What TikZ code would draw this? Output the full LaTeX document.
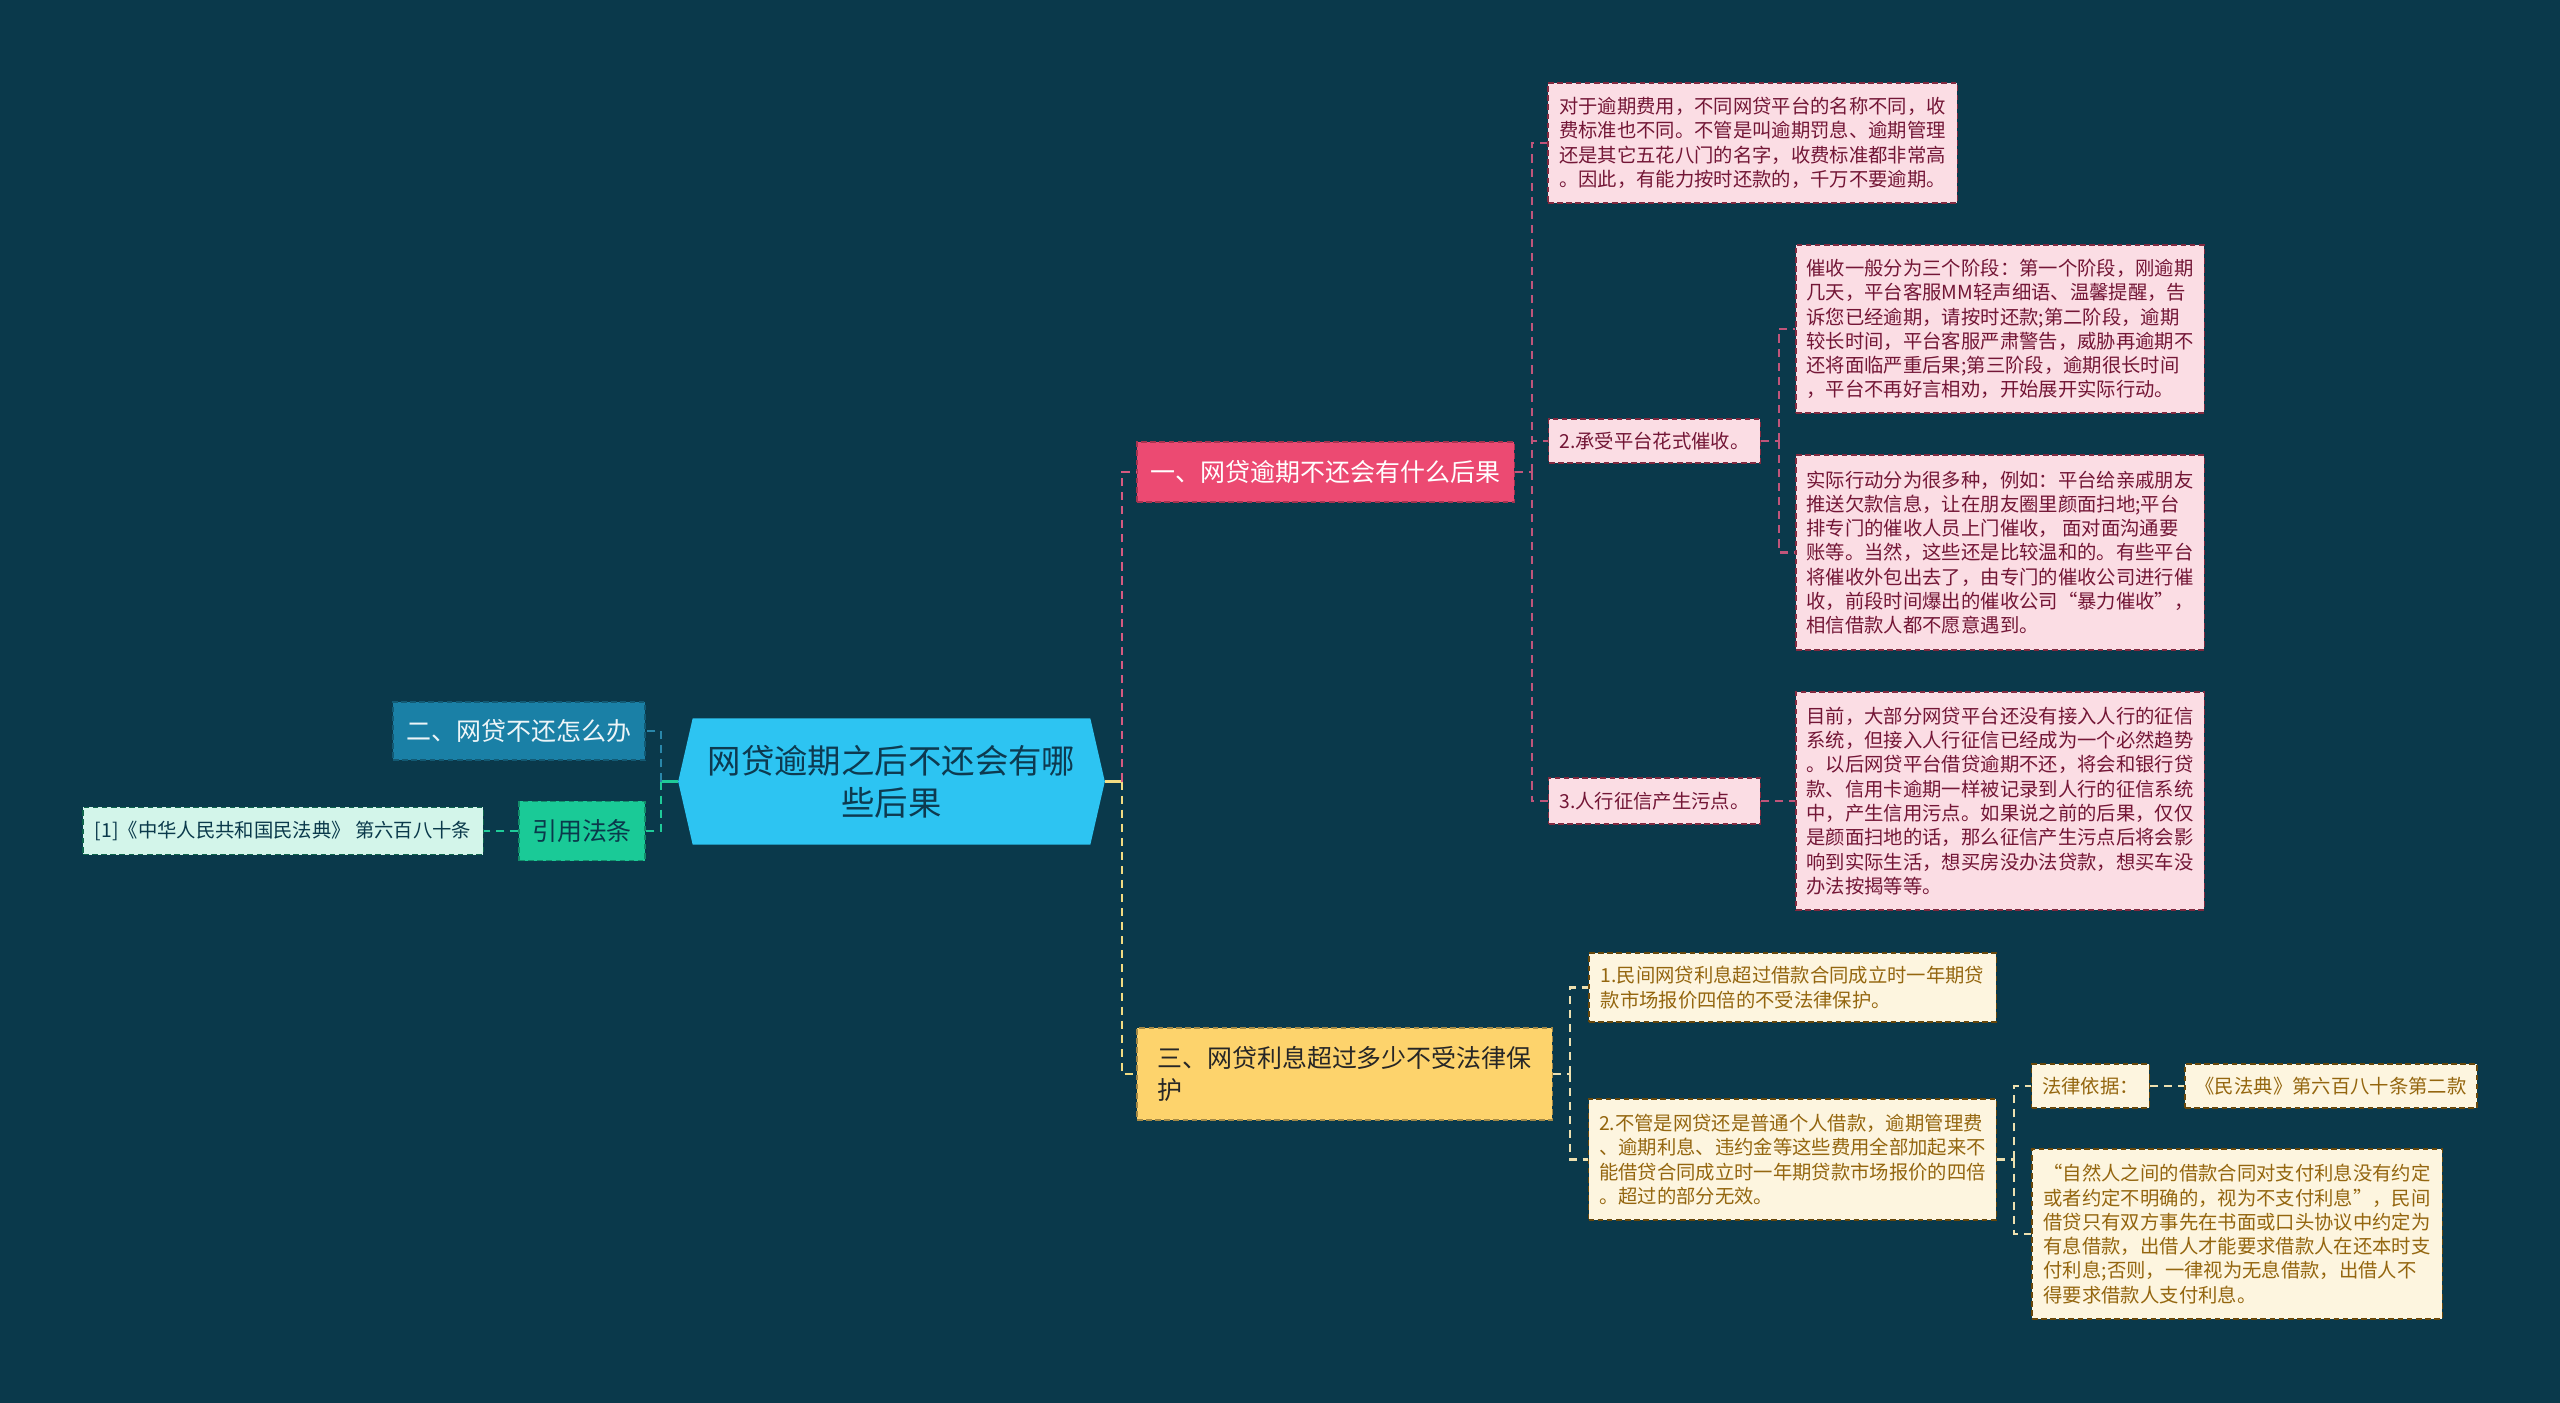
\documentclass[tikz,border=0pt]{standalone}
\usepackage{fontspec}
\setmainfont{Noto Sans CJK SC}
\usetikzlibrary{backgrounds}
\definecolor{bg}{HTML}{0A394B}
\definecolor{rootfill}{HTML}{2DC4F2}
\definecolor{roottext}{HTML}{0D3A50}
\definecolor{pinkfill}{HTML}{EC4A72}
\definecolor{pinklight}{HTML}{FBDDE4}
\definecolor{pinktext}{HTML}{731636}
\definecolor{bluefill}{HTML}{1A80A6}
\definecolor{greenfill}{HTML}{1ACA97}
\definecolor{mintlight}{HTML}{D3F5EA}
\definecolor{yellowfill}{HTML}{FDD36C}
\definecolor{creamlight}{HTML}{FDF5DF}
\definecolor{creamtext}{HTML}{94660F}
\definecolor{linkpink}{HTML}{D65A80}
\definecolor{subpink}{HTML}{C0557A}
\definecolor{linkyellow}{HTML}{F2DC82}
\definecolor{subcream}{HTML}{EDE0B0}
\definecolor{linkblue}{HTML}{2A87AA}
\definecolor{linkgreen}{HTML}{1FCB99}
\tikzset{
  box/.style={dash pattern=on 1.6pt off 1pt, line width=0.35pt, align=center, inner sep=3pt},
  rootbox/.style={text=roottext, minimum width=4.25cm, minimum height=1.25cm, inner sep=0pt,
    align=center, font=\fontsize{9.5}{11.9}\selectfont},
  headfont/.style={font=\fontsize{7.1}{9}\selectfont},
  pinkhead/.style={box, headfont, fill=pinkfill, draw=pinkfill!70!black, text=white},
  bluehead/.style={box, headfont, fill=bluefill, draw=bluefill!70!black, text=white!92!bluefill},
  greenhead/.style={box, headfont, fill=greenfill, draw=greenfill!70!black, text=bg},
  yellowhead/.style={box, headfont, fill=yellowfill, draw=yellowfill!65!black, text=black!85, align=left},
  notefont/.style={font=\fontsize{5.5}{6.9}\selectfont},
  pinknote/.style={box, notefont, fill=pinklight, draw=pinkfill!55!black, text=pinktext, align=left},
  creamnote/.style={box, notefont, fill=creamlight, draw=creamtext!70!black, text=creamtext, align=left},
  mintnote/.style={box, notefont, fill=mintlight, draw=greenfill!50!black, text=bg},
  link/.style={line width=0.6pt, dash pattern=on 2.3pt off 1.7pt},
  stub/.style={line width=0.85pt}
}
\begin{document}
\begin{tikzpicture}[x=0.01cm, y=-0.01cm]
  \useasboundingbox (0,0) rectangle (2560,1403);
  \begin{scope}[on background layer]
    \fill[bg] (0,0) rectangle (2560,1403);
  \end{scope}

  % central topic
  \node[rootbox] (root) at (891.5,781.5) {网贷逾期之后不还会有哪\\些后果};
  \begin{scope}[on background layer]
    \fill[rootfill] (root.west) -- ([xshift=0.145cm]root.north west) -- ([xshift=-0.145cm]root.north east)
      -- (root.east) -- ([xshift=-0.145cm]root.south east) -- ([xshift=0.145cm]root.south west) -- cycle;
  \end{scope}

  % main branches
  \node[pinkhead, minimum width=3.77cm, minimum height=0.6cm] (conseq) at (1325.5,472) {一、网贷逾期不还会有什么后果};
  \node[bluehead, minimum width=2.52cm, minimum height=0.58cm] (howto) at (519,731) {二、网贷不还怎么办};
  \node[greenhead, minimum width=1.26cm, minimum height=0.59cm] (cite) at (582,831) {引用法条};
  \node[yellowhead, minimum width=4.15cm, minimum height=0.92cm] (interest) at (1344.5,1074) {三、网贷利息超过多少不受法律保\\护};

  % consequences
  \node[pinknote, minimum width=4.09cm, minimum height=1.2cm] (fee) at (1752.5,143) {对于逾期费用，不同网贷平台的名称不同，收\\费标准也不同。不管是叫逾期罚息、逾期管理\\还是其它五花八门的名字，收费标准都非常高\\。因此，有能力按时还款的，千万不要逾期。};
  \node[pinknote, minimum width=2.11cm, minimum height=0.44cm] (collect) at (1654.5,441) {2.承受平台花式催收。};
  \node[pinknote, minimum width=4.08cm, minimum height=1.68cm] (stage) at (2000,329) {催收一般分为三个阶段：第一个阶段，刚逾期\\几天，平台客服MM轻声细语、温馨提醒，告\\诉您已经逾期，请按时还款;第二阶段，逾期\\较长时间，平台客服严肃警告，威胁再逾期不\\还将面临严重后果;第三阶段，逾期很长时间\\，平台不再好言相劝，开始展开实际行动。};
  \node[pinknote, minimum width=4.08cm, minimum height=1.95cm] (action) at (2000,552.5) {实际行动分为很多种，例如：平台给亲戚朋友\\推送欠款信息，让在朋友圈里颜面扫地;平台\\排专门的催收人员上门催收， 面对面沟通要\\账等。当然，这些还是比较温和的。有些平台\\将催收外包出去了，由专门的催收公司进行催\\收，前段时间爆出的催收公司“暴力催收”，\\相信借款人都不愿意遇到。};
  \node[pinknote, minimum width=2.11cm, minimum height=0.46cm] (credit) at (1654.5,801) {3.人行征信产生污点。};
  \node[pinknote, minimum width=4.08cm, minimum height=2.18cm] (record) at (2000,801) {目前，大部分网贷平台还没有接入人行的征信\\系统，但接入人行征信已经成为一个必然趋势\\。以后网贷平台借贷逾期不还，将会和银行贷\\款、信用卡逾期一样被记录到人行的征信系统\\中，产生信用污点。如果说之前的后果，仅仅\\是颜面扫地的话，那么征信产生污点后将会影\\响到实际生活，想买房没办法贷款，想买车没\\办法按揭等等。};

  % cited law
  \node[mintnote, minimum width=4cm, minimum height=0.47cm] (lawref) at (283,831) {[1]《中华人民共和国民法典》 第六百八十条};

  % interest limits
  \node[creamnote, minimum width=4.07cm, minimum height=0.69cm] (limit) at (1792.5,987.5) {1.民间网贷利息超过借款合同成立时一年期贷\\款市场报价四倍的不受法律保护。};
  \node[creamnote, minimum width=4.07cm, minimum height=1.21cm] (total) at (1792.5,1159.5) {2.不管是网贷还是普通个人借款，逾期管理费\\、逾期利息、违约金等这些费用全部加起来不\\能借贷合同成立时一年期贷款市场报价的四倍\\。超过的部分无效。};
  \node[creamnote, minimum width=1.17cm, minimum height=0.44cm] (basis) at (2090.5,1086) {法律依据：};
  \node[creamnote, minimum width=2.92cm, minimum height=0.44cm] (article) at (2331,1086) {《民法典》第六百八十条第二款};
  \node[creamnote, minimum width=4.1cm, minimum height=1.7cm] (quote) at (2237,1234) {“自然人之间的借款合同对支付利息没有约定\\或者约定不明确的，视为不支付利息”，民间\\借贷只有双方事先在书面或口头协议中约定为\\有息借款，出借人才能要求借款人在还本时支\\付利息;否则，一律视为无息借款，出借人不\\得要求借款人支付利息。};

  % right side links
  \draw[stub, linkyellow] (root.east) -- ++(17,0) coordinate (rj);
  \draw[link, linkpink] (rj) |- (conseq.west);
  \draw[link, linkyellow] (rj) |- (interest.west);

  \draw[link, subpink] (conseq.east) -- ++(17,0) coordinate (cj);
  \draw[link, subpink] (cj) |- (fee.west);
  \draw[link, subpink] (cj) |- (collect.west);
  \draw[link, subpink] (cj) |- (credit.west);
  \draw[link, subpink] (collect.east) -- ++(18,0) coordinate (kj);
  \draw[link, subpink] (kj) |- (stage.west);
  \draw[link, subpink] (kj) |- (action.west);
  \draw[link, subpink] (credit.east) -- (record.west);

  \draw[link, subcream] (interest.east) -- ++(17,0) coordinate (ij);
  \draw[link, subcream] (ij) |- (limit.west);
  \draw[link, subcream] (ij) |- (total.west);
  \draw[link, subcream] (total.east) -- ++(17,0) coordinate (tj);
  \draw[link, subcream] (tj) |- (basis.west);
  \draw[link, subcream] (tj) |- (quote.west);
  \draw[link, subcream] (basis.east) -- (article.west);

  % left side links
  \draw[stub, linkgreen] (root.west) -- ++(-17,0) coordinate (lj);
  \draw[link, linkblue] (lj) |- (howto.east);
  \draw[link, linkgreen] (lj) |- (cite.east);
  \draw[link, linkgreen] (cite.west) -- (lawref.east);
\end{tikzpicture}
\end{document}
